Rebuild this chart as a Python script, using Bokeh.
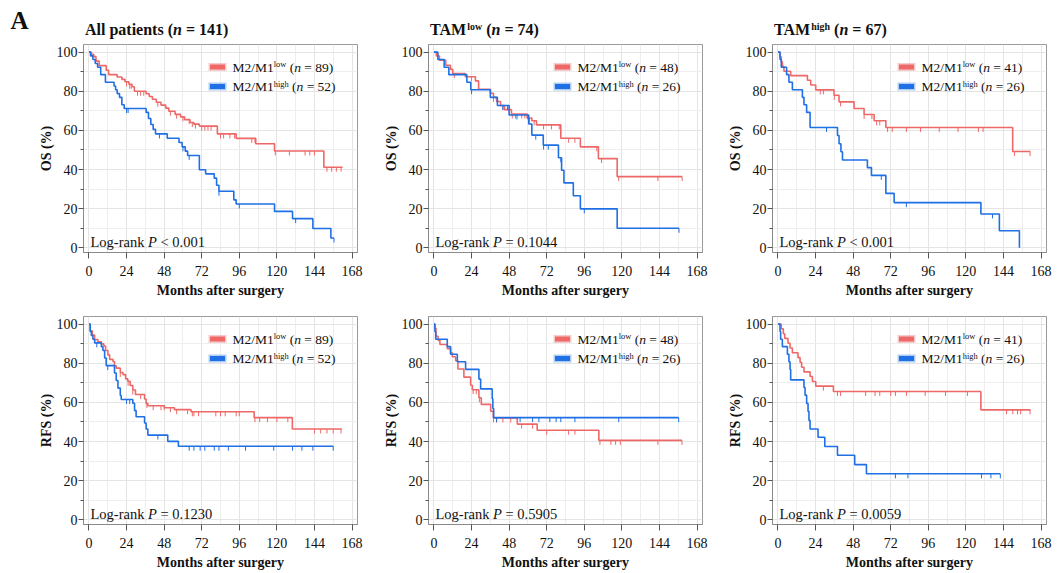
import numpy as np
from bokeh.plotting import figure
from bokeh.models import Label, FixedTicker, Range1d
from bokeh.layouts import column, row
from bokeh.embed import file_html
from bokeh.resources import INLINE

# ---------------- data ----------------
x_ticks = [0, 24, 48, 72, 96, 120, 144, 168]
x_minor = [12, 36, 60, 84, 108, 132, 156]
y_ticks = [0, 20, 40, 60, 80, 100]
y_minor = [10, 30, 50, 70, 90]

# Panel 1: OS, all patients (n = 141)
os_all_low_t = [0, 1.5, 3, 4.5, 6.5, 11, 12.5, 18, 21, 23, 25.5, 27.5, 29, 36.5, 38.5, 40.5, 43, 46, 49, 51, 55, 58.5, 61, 64.5, 67, 70.5, 82, 94, 106.5, 118.5, 150, 162]
os_all_low_s = [100, 98.9, 97.7, 95.4, 93.1, 90.8, 88.5, 87.3, 86.1, 84.9, 83.6, 82.3, 80.0, 78.7, 77.3, 75.9, 74.4, 72.9, 71.4, 69.8, 68.2, 66.9, 65.5, 64.0, 63.2, 62.2, 58.2, 55.9, 53.2, 49.5, 41.2, 41.2]
os_all_low_c = [24, 26, 27, 31, 33, 35, 44, 52, 56, 60, 64, 66, 68, 72, 74, 76, 78, 84, 86, 90, 93, 104, 106, 119, 128, 138, 141, 144, 152, 155, 158, 161]
os_all_high_t = [0, 1, 2.5, 4, 5.5, 7.5, 10.5, 16, 17, 18, 19.5, 21, 22.5, 36.5, 38, 39.5, 41, 42.5, 50, 57.5, 59.5, 61.5, 63, 70.5, 74.5, 80, 81.5, 83, 92.5, 94, 118.5, 130, 143, 154.5, 156.5]
os_all_high_s = [100, 98.1, 96.2, 94.2, 92.3, 88.5, 84.6, 82.7, 80.8, 78.8, 76.9, 73.1, 71.2, 69.2, 66.1, 63.0, 60.5, 58.2, 56.0, 53.8, 51.6, 49.4, 47.2, 39.9, 37.8, 35.6, 32.0, 28.9, 24.5, 22.4, 18.6, 14.9, 9.9, 5.0, 5.0]
os_all_high_c = [24, 25, 45, 60, 64, 83, 96, 132, 156.5]

# Panel 2: OS, TAM low (n = 74)
os_tl_low_t = [0, 1.5, 3.5, 7.5, 10.5, 12, 20, 26.5, 28.5, 36, 38, 40, 42.5, 45, 49.5, 59.5, 62.5, 65.5, 81, 93.5, 105, 117, 158.5]
os_tl_low_s = [100, 98.0, 95.9, 93.3, 91.2, 89.1, 87.4, 85.3, 81.0, 79.0, 76.9, 74.8, 72.7, 70.6, 68.4, 66.3, 64.9, 62.8, 56.0, 51.6, 45.6, 36.4, 36.4]
os_tl_low_c = [13, 24, 38, 44, 50, 52, 56, 58, 61, 64, 70, 75, 80, 86, 90, 104, 107, 118, 143, 158.5]
os_tl_high_t = [0, 2.5, 6.5, 9.5, 21, 23.5, 36, 40.5, 48, 60.5, 62.5, 69.8, 79.5, 81.5, 83, 89, 93.5, 117, 156.5]
os_tl_high_s = [100, 96.2, 92.3, 88.5, 84.6, 80.8, 76.9, 72.7, 67.9, 63.3, 57.6, 52.5, 46.0, 39.6, 33.2, 26.6, 19.9, 10.0, 10.0]
os_tl_high_c = [24, 44, 47, 53, 60, 65, 70, 73, 81, 96, 156.5]

# Panel 3: OS, TAM high (n = 67)
os_th_low_t = [0, 1.3, 2.1, 2.8, 3.8, 8.1, 18.8, 20.9, 24.1, 35.8, 39, 48.6, 55, 61.4, 68.9, 149.9, 161.2]
os_th_low_s = [100, 97.6, 95.1, 92.7, 90.2, 88.0, 85.6, 83.2, 80.7, 78.0, 74.6, 71.2, 68.1, 64.9, 61.5, 49.2, 49.2]
os_th_low_c = [24, 27, 29, 36, 40, 55, 60, 63, 65, 70, 73, 82, 91, 103, 115, 128, 131, 151, 161]
os_th_high_t = [0, 1.3, 2.1, 5.5, 7.0, 9.2, 15.6, 16.6, 18.3, 20.5, 38, 39, 40.2, 41.2, 57.1, 59.7, 68.9, 74.2, 129.6, 141.4, 154.2]
os_th_high_s = [100, 96.2, 92.3, 88.5, 84.6, 80.8, 76.9, 73.1, 69.2, 61.5, 57.4, 53.2, 49.1, 44.9, 41.0, 37.0, 27.8, 23.1, 17.3, 8.7, 0]
os_th_high_c = [31, 66, 82, 137]

# Panel 4: RFS, all patients
rfs_all_low_t = [0, 0.8, 2.1, 3.6, 5.7, 7.9, 9.5, 10.6, 12.1, 13.2, 15.3, 16.3, 17.4, 20, 21.7, 23.4, 24.8, 26.3, 28, 29.7, 35.5, 36.5, 37.6, 48.2, 54.6, 65.2, 105.5, 129.9, 161.4]
rfs_all_low_s = [100, 96.6, 94.4, 92.1, 91.0, 89.9, 88.8, 86.5, 84.3, 82.0, 80.9, 78.7, 77.5, 75.3, 74.2, 72.0, 70.8, 68.6, 66.3, 64.0, 61.7, 59.5, 58.3, 57.3, 56.3, 55.2, 52.2, 46.4, 46.4]
rfs_all_low_c = [20, 25, 28, 33, 37, 41, 46, 48, 52, 56, 63, 66, 67, 70, 81, 84, 87, 94, 96, 106, 109, 114, 120, 127, 144, 148, 152, 156, 161]
rfs_all_high_t = [0, 0.8, 1.5, 2.5, 3.6, 7.9, 8.9, 10, 11, 16.3, 17.4, 18.5, 20, 20.6, 28, 29.1, 30.1, 35.5, 36.5, 37.6, 50.3, 57.1, 156]
rfs_all_high_s = [100, 96.2, 94.2, 92.3, 90.4, 88.5, 86.5, 82.7, 78.8, 75.0, 71.2, 67.3, 63.5, 61.5, 59.6, 55.8, 52.7, 49.5, 46.4, 43.3, 40.1, 37.6, 37.6]
rfs_all_high_c = [5, 12, 24, 26, 44, 64, 67, 71, 74, 80, 83, 89, 100, 118, 130, 136, 143, 156]

# Panel 5: RFS, TAM low
rfs_tl_low_t = [0, 0.6, 1.3, 2.6, 3.8, 8.5, 10.6, 11.7, 13.8, 15.3, 19.1, 23.4, 24.5, 28.7, 30.2, 36.2, 37.9, 53.2, 65.9, 105.3, 158.4]
rfs_tl_low_s = [100, 97.9, 93.8, 91.7, 89.6, 87.5, 85.4, 83.3, 81.3, 77.1, 72.9, 68.8, 66.5, 62.4, 59.0, 55.5, 52.0, 48.9, 45.8, 40.6, 40.6]
rfs_tl_low_c = [25, 27, 29, 38, 40, 44, 49, 56, 63, 72, 86, 90, 106, 113, 116, 119, 143, 158.4]
rfs_tl_high_t = [0, 0.6, 1.1, 8.5, 10.6, 14.9, 20.2, 28.7, 29.8, 37.2, 37.6, 38.1, 156.3]
rfs_tl_high_s = [100, 96.2, 92.3, 88.5, 84.6, 80.8, 76.9, 71.9, 66.9, 61.9, 56.9, 52.2, 52.2]
rfs_tl_high_c = [38, 40, 55, 63, 67, 74, 78, 81, 90, 118, 156.3]

# Panel 6: RFS, TAM high
rfs_th_low_t = [0, 2.1, 3.4, 4.3, 6.4, 7.7, 9.2, 12.8, 14.1, 15.1, 16.6, 20.5, 22, 24.1, 35.4, 129.6, 161.2]
rfs_th_low_s = [100, 97.6, 95.1, 92.7, 90.2, 87.8, 85.4, 82.9, 80.5, 78.0, 75.6, 73.2, 70.7, 68.3, 65.6, 56.2, 56.2]
rfs_th_low_c = [29, 38, 40, 56, 62, 65, 72, 75, 82, 94, 107, 121, 146, 150, 153, 155, 161]
rfs_th_high_t = [0, 1.3, 1.7, 2.8, 6, 7, 7.7, 8.1, 16.6, 17.3, 18.3, 19.2, 19.8, 20.5, 25.6, 29.9, 38, 49, 56.5, 142]
rfs_th_high_s = [100, 96.2, 92.3, 88.5, 84.6, 80.8, 76.9, 71.5, 67.6, 63.7, 59.5, 55.4, 50.8, 46.4, 42.2, 37.5, 33.0, 28.2, 23.5, 23.5]
rfs_th_high_c = [75, 83, 130, 136, 142]

group_n = [(89, 52), (48, 26), (41, 26), (89, 52), (48, 26), (41, 26)]
cohort_titles = [("All patients", None, 141), ("TAM", "low", 74), ("TAM", "high", 67)]
p_values = ["< 0.001", "= 0.1044", "< 0.001", "= 0.1230", "= 0.5905", "= 0.0059"]
y_labels = ["OS (%)", "RFS (%)"]

# ---------------- style / layout ----------------
FONT = "Liberation Serif"
RED = "#EE6868"
BLUE = "#1F6FE5"
TXT = "#111111"
FW, FH = 274, 208
XR = (-3.5, 171.5)
YR = (-2.4, 103.9)
BAND_H = 40
COL_LR = [(83, 21), (50, 20), (50, 10)]
ROW_TB = [(4, 50), (14, 47)]
TOTAL_W = sum(l + FW + r for l, r in COL_LR)
BASE_FIX = 0.32  # renderer places the alphabetic baseline this fraction of an em low

# Times-compatible advance widths (per 1000 em) for laying out rich text pieces
WID = {
    "normal": {" ": 250, "(": 333, ")": 333, "=": 564, "<": 564, ".": 250, "-": 333, "/": 278,
               "M": 889, "L": 611, "a": 444, "g": 500, "h": 500, "i": 278, "k": 500, "l": 278,
               "n": 500, "o": 500, "r": 333, "w": 722},
    "italic": {"n": 500, "P": 611, " ": 250},
    "bold": {" ": 250, "(": 333, ")": 333, "=": 570, "A": 722, "M": 944, "T": 667, "a": 500,
             "e": 444, "g": 500, "h": 556, "i": 278, "l": 278, "n": 556, "o": 500, "p": 556,
             "s": 389, "t": 333, "w": 722},
    "bold italic": {"n": 556, " ": 250},
}


def tw(text, style, size):
    tab = WID[style]
    return sum(tab.get(c, 500) for c in text) / 1000.0 * size


def rich(p, x, y, x0, y_off, pieces, base):
    off = x0
    for text, style, scale, rise in pieces:
        size = base * scale
        stripped = text.strip()
        lead = len(text) - len(text.lstrip())
        if stripped:
            p.add_layout(Label(x=x, y=y, x_offset=off + tw(text[:lead], style, size),
                               y_offset=y_off + rise + BASE_FIX * size, text=stripped,
                               text_font=FONT, text_font_size=f"{size:.1f}px",
                               text_font_style=style, text_baseline="alphabetic",
                               text_align="left", text_color=TXT))
        off += tw(text, style, size)


def make_panel(i, curves, borders):
    bl, br, bt, bb = borders
    p = figure(frame_width=FW, frame_height=FH, x_range=Range1d(*XR), y_range=Range1d(*YR),
               output_backend="svg", toolbar_location=None,
               min_border_left=bl, min_border_right=br, min_border_top=bt, min_border_bottom=bb)
    p.outline_line_color = "#9a9a9a"
    p.outline_line_width = 1
    p.background_fill_color = "white"
    p.border_fill_color = "white"

    xt = FixedTicker(ticks=x_ticks, minor_ticks=x_minor)
    yt = FixedTicker(ticks=y_ticks, minor_ticks=y_minor)
    p.xaxis.ticker = xt
    p.yaxis.ticker = yt
    p.xgrid.ticker = xt
    p.ygrid.ticker = yt
    for g in (p.xgrid[0], p.ygrid[0]):
        g.grid_line_color = "#e4e4e4"
        g.minor_grid_line_color = "#eeeeee"

    for ax in (p.xaxis[0], p.yaxis[0]):
        ax.axis_line_color = "#8a8a8a"
        ax.major_tick_line_color = "#555555"
        ax.major_tick_in = 0
        ax.major_label_text_font = FONT
        ax.major_label_text_font_size = "14px"
        ax.major_label_text_color = TXT
        ax.axis_label_text_font = FONT
        ax.axis_label_text_font_style = "bold"
        ax.axis_label_text_font_size = "14px"
        ax.axis_label_text_color = TXT
    xa, ya = p.xaxis[0], p.yaxis[0]
    xa.major_tick_out = 6
    xa.major_label_standoff = 7
    xa.axis_label_standoff = 4
    ya.major_tick_out = 5
    ya.major_label_standoff = 1
    ya.axis_label_standoff = 0
    xa.minor_tick_line_color = None
    ya.minor_tick_line_color = "#555555"
    ya.minor_tick_out = 3
    ya.minor_tick_in = 0
    xa.axis_label = "Months after surgery"
    ya.axis_label = y_labels[i // 3]

    for t, s, c, color in curves:
        p.step(t, s, mode="after", line_color=color, line_width=1.6)
        ta = np.asarray(t, dtype=float)
        sa = np.asarray(s, dtype=float)
        idx = np.searchsorted(ta, np.asarray(c, dtype=float), side="right") - 1
        cy = sa[idx]
        p.segment(x0=c, y0=cy, x1=c, y1=cy - 2.3, line_color=color, line_width=1)

    xs, xe = XR
    ys, ye = YR

    def dx(px):
        return xs + px / FW * (xe - xs)

    def dy(px):
        return ye - px / FH * (ye - ys)

    # legend
    n_low, n_high = group_n[i]
    for k, (lvl, n, color) in enumerate([("low", n_low, RED), ("high", n_high, BLUE)]):
        cy_px = 22.5 + 19.5 * k
        p.rect(x=[dx(134)], y=[dy(cy_px)], width=18, height=8, width_units="screen",
               height_units="screen", fill_color=color, fill_alpha=0.35, line_color=None)
        p.rect(x=[dx(134)], y=[dy(cy_px)], width=15, height=5, width_units="screen",
               height_units="screen", fill_color=color, line_color=None)
        rich(p, xs, ye, 149, -(cy_px + 4.5),
             [("M2/M1", "normal", 1, 0), (lvl, "normal", 0.62, 4), (" (", "normal", 1, 0),
              ("n", "italic", 1, 0), (f" = {n})", "normal", 1, 0)], 13.5)

    # log-rank
    rich(p, xs, ys, 7, 6,
         [("Log-rank ", "normal", 1, 0), ("P", "italic", 1, 0), (" " + p_values[i], "normal", 1, 0)], 14.5)
    return p


# title band above the top row (panel titles + figure letter)
band = figure(frame_width=TOTAL_W, frame_height=BAND_H, x_range=Range1d(0, TOTAL_W),
              y_range=Range1d(BAND_H, 0), x_axis_type=None, y_axis_type=None,
              output_backend="svg", toolbar_location=None, min_border=0)
band.outline_line_color = None
band.background_fill_color = "white"
band.border_fill_color = "white"
band.add_layout(Label(x=10, y=28, y_offset=BASE_FIX * 25, text="A", text_font=FONT,
                      text_font_size="25px", text_font_style="bold",
                      text_baseline="alphabetic", text_color=TXT))
left = 0
for j in range(3):
    l, r = COL_LR[j]
    name, sup, n = cohort_titles[j]
    pieces = [(name, "bold", 1, 0)]
    if sup:
        pieces.append((sup, "bold", 0.62, 5))
    pieces += [(" (", "bold", 1, 0), ("n", "bold italic", 1, 0), (f" = {n})", "bold", 1, 0)]
    rich(band, left + l, 34, 1.5, 0, pieces, 16)
    left += l + FW + r

all_curves = [
    [(os_all_low_t, os_all_low_s, os_all_low_c, RED), (os_all_high_t, os_all_high_s, os_all_high_c, BLUE)],
    [(os_tl_low_t, os_tl_low_s, os_tl_low_c, RED), (os_tl_high_t, os_tl_high_s, os_tl_high_c, BLUE)],
    [(os_th_low_t, os_th_low_s, os_th_low_c, RED), (os_th_high_t, os_th_high_s, os_th_high_c, BLUE)],
    [(rfs_all_low_t, rfs_all_low_s, rfs_all_low_c, RED), (rfs_all_high_t, rfs_all_high_s, rfs_all_high_c, BLUE)],
    [(rfs_tl_low_t, rfs_tl_low_s, rfs_tl_low_c, RED), (rfs_tl_high_t, rfs_tl_high_s, rfs_tl_high_c, BLUE)],
    [(rfs_th_low_t, rfs_th_low_s, rfs_th_low_c, RED), (rfs_th_high_t, rfs_th_high_s, rfs_th_high_c, BLUE)],
]

plots = []
for i in range(6):
    l, r = COL_LR[i % 3]
    t, b = ROW_TB[i // 3]
    plots.append(make_panel(i, all_curves[i], (l, r, t, b)))

layout = column(band, row(plots[0], plots[1], plots[2]), row(plots[3], plots[4], plots[5]))
open("out.html", "w").write(file_html(layout, INLINE))
